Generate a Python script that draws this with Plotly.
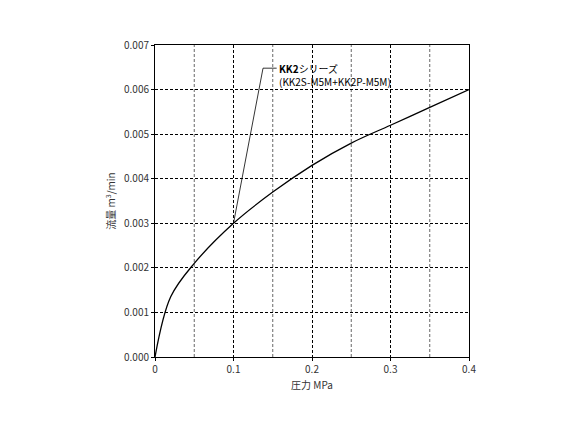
import plotly.graph_objects as go

pressure = [0, 0.02, 0.05, 0.1, 0.15, 0.2, 0.25, 0.3, 0.35, 0.4]
flow = [0, 0.00135, 0.0021, 0.003, 0.0037, 0.0043, 0.0048, 0.0052, 0.0056, 0.006]
leader_x = [0.1, 0.1376, 0.155]
leader_y = [0.003, 0.00648, 0.00648]

fig = go.Figure()
fig.add_trace(go.Scatter(x=pressure, y=flow, mode="lines", line=dict(color="black", width=1.3),
                         line_shape="spline", showlegend=False))
fig.add_trace(go.Scatter(x=leader_x, y=leader_y, mode="lines", line=dict(color="black", width=0.8),
                         showlegend=False))
fig.add_annotation(x=0.156, y=0.00648, text="<b>KK2</b>シリーズ",
                   showarrow=False, xanchor="left", yanchor="middle",
                   font=dict(size=10, color="black"))
fig.add_annotation(x=0.156, y=0.00648, text="(KK2S-M5M+KK2P-M5M)",
                   showarrow=False, xanchor="left", yanchor="middle",
                   font=dict(size=10, color="black"), yshift=-13)

ax = dict(showline=True, mirror=True, linecolor="black", linewidth=1, ticks="outside",
          ticklen=3, tickcolor="black", showgrid=True, gridcolor="black", griddash="3px,2px",
          gridwidth=0.6, zeroline=False, tickfont=dict(size=10, color="#333"))
fig.update_xaxes(range=[0, 0.4], tickvals=[0, 0.1, 0.2, 0.3, 0.4],
                 ticktext=["0", "0.1", "0.2", "0.3", "0.4"], **ax)
fig.update_yaxes(range=[0, 0.007], dtick=0.001, tickformat=".3f", **ax)
# extra vertical grid lines at 0.05 steps
for v in [0.05, 0.15, 0.25, 0.35]:
    fig.add_vline(x=v, line=dict(color="black", width=0.6, dash="3px,2px"))
fig.update_layout(
    width=583, height=437, plot_bgcolor="white", paper_bgcolor="white",
    margin=dict(l=147, r=122, t=37, b=88),
    font=dict(family="Noto Sans CJK JP", color="#333"),
    xaxis_title=dict(text="圧力 MPa", font=dict(size=10), standoff=6),
    yaxis_title=dict(text="流量 m<sup>3</sup>/min", font=dict(size=10), standoff=6),
)
fig.write_html("out.html")
